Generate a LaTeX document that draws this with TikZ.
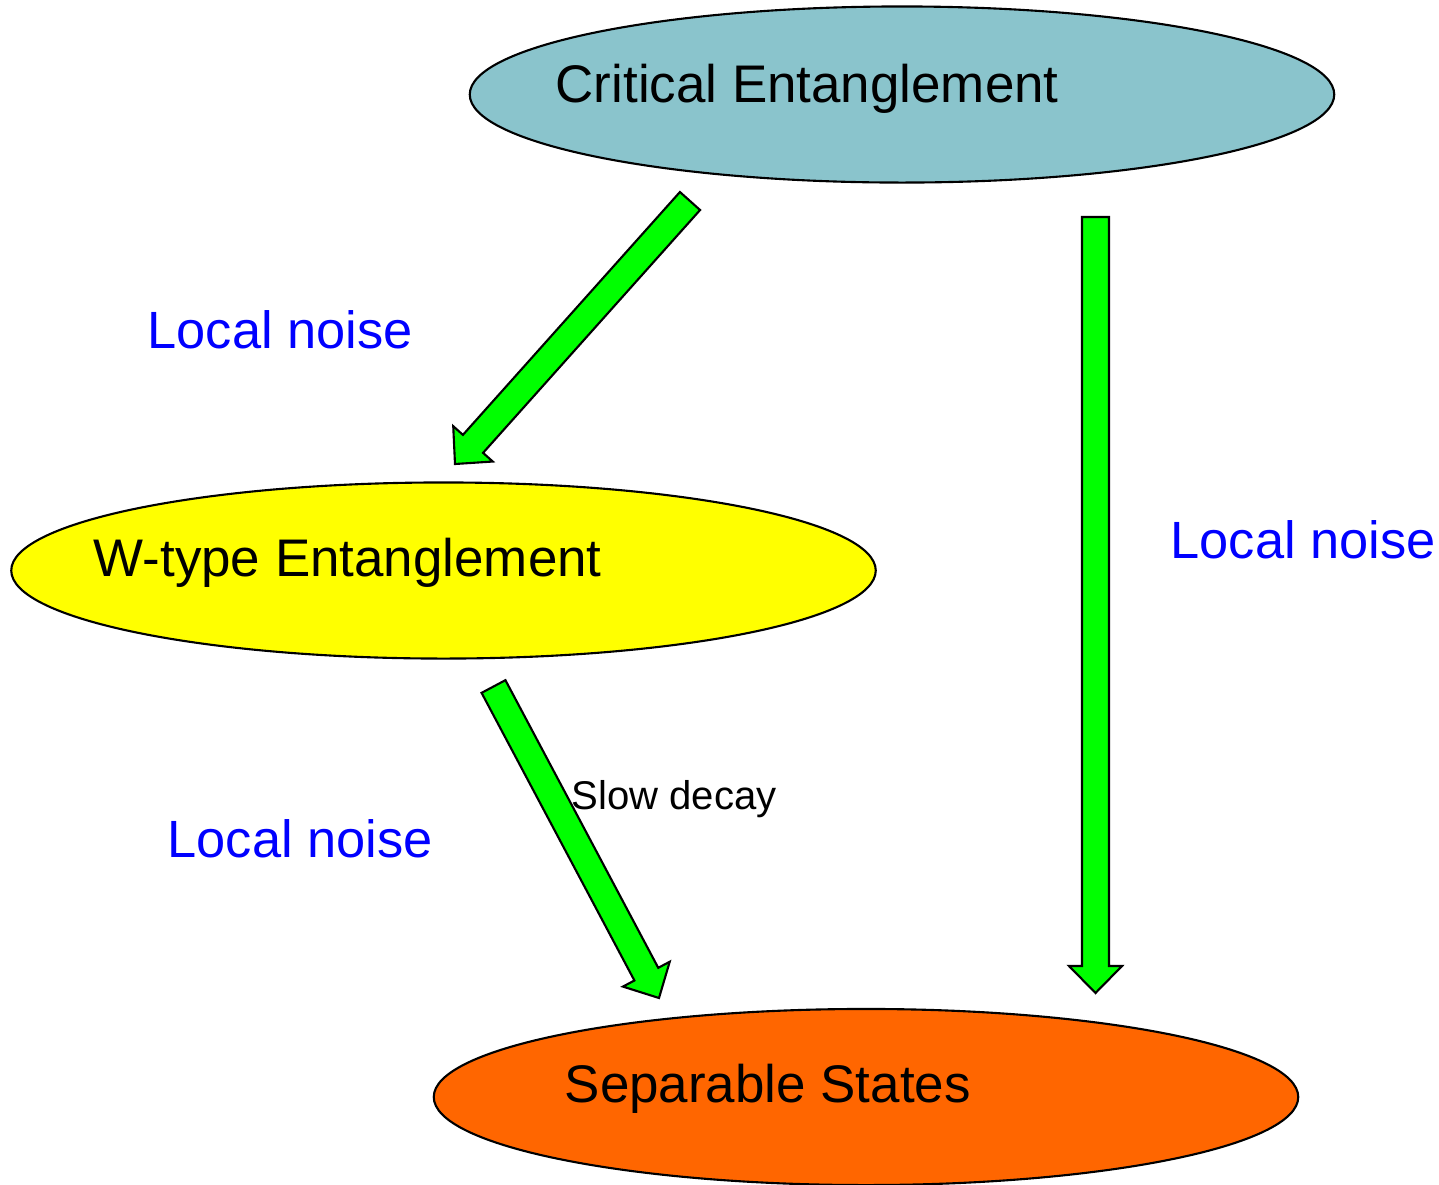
\documentclass[tikz,border=0pt]{standalone}
\usepackage{fontspec}
\setmainfont{Liberation Sans}
\usetikzlibrary{shapes.geometric,calc}

\definecolor{critfill}{RGB}{138,196,204}
\definecolor{wfill}{RGB}{255,255,0}
\definecolor{sepfill}{RGB}{255,102,0}
\definecolor{arrowfill}{RGB}{0,255,0}
\definecolor{noiseblue}{RGB}{0,0,255}

\newcommand*{\shafthw}{0.135cm}
\newcommand*{\headhw}{0.265cm}
\newcommand*{\headlen}{0.27cm}

% block arrow from #1 to #2
\newcommand*{\fatarrow}[2]{%
	\coordinate (#1-h) at ($(#2)!\headlen!(#1)$);
	\draw[fatarrow] ($(#1)!\shafthw!90:(#2)$) -- ($(#1-h)!\shafthw!90:(#2)$)
		-- ($(#1-h)!\headhw!90:(#2)$) -- (#2) -- ($(#1-h)!\headhw!-90:(#2)$)
		-- ($(#1-h)!\shafthw!-90:(#2)$) -- ($(#1)!\shafthw!-90:(#2)$) -- cycle;
}

\begin{document}
\begin{tikzpicture}[x=0.01cm,y=-0.01cm,
	state/.style={ellipse,draw,line width=0.6pt,inner sep=0pt,minimum width=8.64cm,minimum height=1.76cm},
	bigtext/.style={anchor=base west,inner sep=0pt,font=\fontsize{15.05}{18}\selectfont},
	noise/.style={anchor=base west,inner sep=0pt,font=\fontsize{14.9}{18}\selectfont,text=noiseblue},
	fatarrow/.style={draw,fill=arrowfill,line width=0.6pt,line join=miter}]

	\useasboundingbox (0,0) rectangle (1439,1184);

	% states
	\node[state,fill=critfill] (crit) at (902,94.5) {};
	\node[state,fill=wfill] (wtype) at (443.5,570.5) {};
	\node[state,fill=sepfill] (sep) at (866,1097) {};

	% arrow ends
	\coordinate (crit-w) at (690,201);
	\coordinate (w-in) at (455,464);
	\coordinate (w-sep) at (493.5,686.5);
	\coordinate (sep-w) at (659,998);
	\coordinate (crit-sep) at (1095.5,217);
	\coordinate (sep-crit) at (1095.5,993);

	\fatarrow{crit-w}{w-in}
	\fatarrow{w-sep}{sep-w}
	\fatarrow{crit-sep}{sep-crit}

	% texts
	\node[bigtext] (crit-label) at (555,102) {Critical Entanglement};
	\node[bigtext] (wtype-label) at (93,576) {W-type Entanglement};
	\node[bigtext] (sep-label) at (564,1102) {Separable States};

	\node[noise] (noise-a) at (147,348) {Local noise};
	\node[noise] (noise-b) at (167,857) {Local noise};
	\node[noise] (noise-c) at (1170,558) {Local noise};
	\node[anchor=base west,inner sep=0pt,font=\fontsize{11.4}{14}\selectfont] (decay) at (571,809) {Slow decay};

\end{tikzpicture}
\end{document}
